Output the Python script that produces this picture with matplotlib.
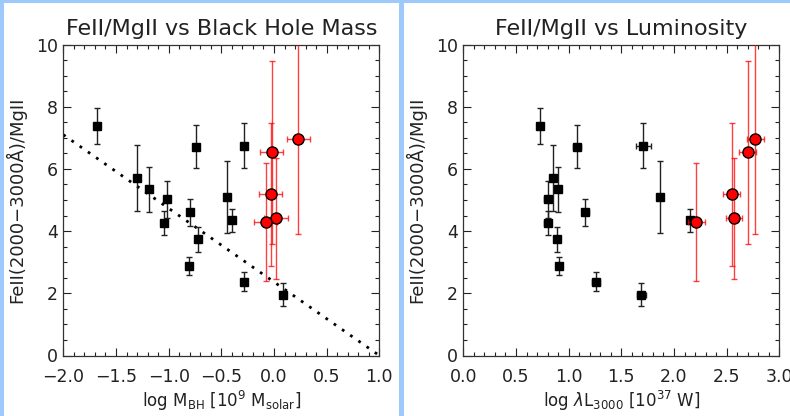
import matplotlib.pyplot as plt
from matplotlib.patches import Rectangle
from matplotlib.ticker import MultipleLocator

# --- black squares (14 objects) ---
mbh = [-1.68, -1.30, -1.19, -1.02, -1.04, -0.80, -0.81, -0.74, -0.72, -0.45, -0.40, -0.28, -0.28, 0.09]
lum = [0.73, 0.85, 0.90, 0.80, 0.80, 1.16, 0.91, 1.08, 0.89, 1.87, 2.15, 1.71, 1.26, 1.69]
lum_err = [0.0, 0.02, 0.02, 0.03, 0.03, 0.03, 0.03, 0.04, 0.03, 0.0, 0.02, 0.07, 0.04, 0.04]
ratio = [7.38, 5.71, 5.34, 5.02, 4.26, 4.61, 2.88, 6.71, 3.74, 5.11, 4.35, 6.74, 2.37, 1.96]
ratio_err = [0.57, 1.05, 0.72, 0.60, 0.40, 0.43, 0.30, 0.69, 0.40, 1.16, 0.37, 0.72, 0.30, 0.37]

# --- red circles (5 objects) ---
red_mbh = [-0.02, -0.03, 0.02, -0.08, 0.23]
red_mbh_err = [0.11, 0.11, 0.11, 0.11, 0.11]
red_lum = [2.70, 2.55, 2.57, 2.21, 2.77]
red_lum_err = [0.08, 0.08, 0.08, 0.08, 0.08]
red_ratio = [6.53, 5.18, 4.41, 4.29, 6.97]
red_ratio_err = [2.95, 2.29, 1.95, 1.89, 3.07]

# dotted trend line in the mass panel
fit_x = [-2.0, 1.0]
fit_y = [7.1, 0.0]

plt.rcParams['font.family'] = 'DejaVu Sans'
fig = plt.figure(figsize=(7.9, 4.16), dpi=100, facecolor='white')

# light blue frame strips
blue = '#9ec9fb'
W, H = 790, 416
for (x, y, w, h) in [(0, 0, 4, 416), (0, 413, 790, 3), (399, 0, 5, 416)]:
    fig.patches.append(Rectangle((x / W, y / H), w / W, h / H, transform=fig.transFigure,
                                 facecolor=blue, edgecolor='none', zorder=0))

ax1 = fig.add_axes([63.3 / W, 1 - 355.5 / H, 316 / W, 311 / H])
ax2 = fig.add_axes([463.3 / W, 1 - 355.5 / H, 316 / W, 311 / H])

ylabel = 'FeII(2000\u22123000\u00c5)/MgII'


def style(ax, xlim, title, xlabel):
    ax.set_xlim(*xlim)
    ax.set_ylim(0, 10)
    ax.xaxis.set_major_locator(MultipleLocator(0.5))
    ax.xaxis.set_minor_locator(MultipleLocator(0.1))
    ax.yaxis.set_major_locator(MultipleLocator(2))
    ax.yaxis.set_minor_locator(MultipleLocator(0.5))
    ax.xaxis.set_major_formatter(lambda v, p: f'{v:.1f}'.replace('-', '\u2212'))
    ax.tick_params(which='both', direction='in', top=True, right=True, colors='#222222',
                   labelsize=12.5, labelcolor='#222222', width=0.8)
    ax.tick_params(which='major', length=6)
    ax.tick_params(axis='x', which='major', pad=9)
    ax.tick_params(axis='y', which='major', pad=4)
    ax.tick_params(which='minor', length=3)
    for s in ax.spines.values():
        s.set_linewidth(0.9)
        s.set_color('#333333')
    ax.set_title(title, fontsize=16, pad=7, color='#222222')
    ax.set_xlabel(xlabel, fontsize=12, labelpad=2, color='#222222')
    ax.set_ylabel(ylabel, fontsize=13, labelpad=7, color='#222222')


def draw(ax, xb, xb_err, xr, xr_err):
    ax.errorbar(xb, ratio, yerr=ratio_err, xerr=xb_err, fmt='s', color='black',
                ecolor='#222222', elinewidth=1.0, capsize=2, capthick=1.0,
                markersize=5.5, zorder=3)
    ax.errorbar(xr, red_ratio, yerr=red_ratio_err, xerr=xr_err, fmt='none',
                ecolor='red', elinewidth=1.0, capsize=2, capthick=1.0, alpha=0.75, zorder=4)
    ax.plot(xr, red_ratio, 'o', color='red', markeredgecolor='black',
            markeredgewidth=1.0, markersize=8, zorder=5)


draw(ax1, mbh, None, red_mbh, red_mbh_err)
ax1.plot(fit_x, fit_y, color='black', linestyle=(0, (1, 2.6)), linewidth=2, zorder=2)
style(ax1, (-2.0, 1.0), 'FeII/MgII vs Black Hole Mass',
      r'log M$_{\rm BH}$ [10$^{9}$ M$_{\rm solar}$]')

draw(ax2, lum, lum_err, red_lum, red_lum_err)
style(ax2, (0.0, 3.0), 'FeII/MgII vs Luminosity',
      r'log $\lambda$L$_{3000}$ [10$^{37}$ W]')

fig.savefig('out.png', dpi=100, facecolor='white')
